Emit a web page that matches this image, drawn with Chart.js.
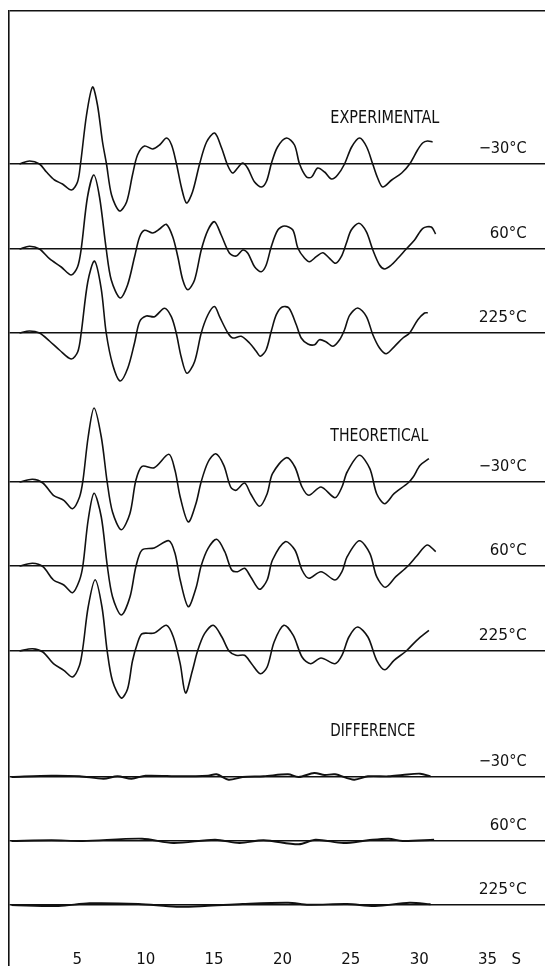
<!DOCTYPE html>
<html>
<head>
<meta charset="utf-8">
<script src="https://cdn.jsdelivr.net/npm/chart.js@4.4.1/dist/chart.umd.min.js"></script>
<style>
  html, body { margin: 0; padding: 0; background: #fff; }
  #wrap { width: 545px; height: 966px; position: relative; }
</style>
</head>
<body>
<div id="wrap"><canvas id="c"></canvas></div>
<script>
// time axis (s) and labels
const xTicks = [5, 10, 15, 20, 25, 30, 35];
const unitLabel = 'S';
const groupNames = ['EXPERIMENTAL', 'THEORETICAL', 'DIFFERENCE'];
const temps = ['\u221230\u00b0C', '60\u00b0C', '225\u00b0C'];

// vertical offset of each trace baseline (exp -30, 60, 225, theo -30, 60, 225, diff -30, 60, 225)
const traceOffsets = [802, 717, 633, 484, 400, 315, 189, 125, 61];

// traces: [time s, amplitude]
const expM30 = [[0.77,0],[1.5,3],[2.23,0],[2.74,-8],[3.33,-16],[3.91,-20],[4.57,-26],[5.01,-18],[5.23,0],[5.67,49],[6.11,77],[6.47,59],[6.84,22],[7.13,0],[7.5,-31],[8.08,-47],[8.6,-38],[9.03,-11],[9.4,9],[9.91,18],[10.5,15],[11.01,19],[11.52,26],[11.89,19],[12.25,0],[12.62,-24],[12.98,-39],[13.42,-28],[13.94,0],[14.45,22],[15.04,31],[15.55,16],[15.98,-1],[16.35,-9],[16.72,-4],[17.08,1],[17.45,-4],[17.96,-18],[18.47,-23],[18.84,-17],[19.2,1],[19.64,17],[20.3,26],[20.88,19],[21.25,0],[21.76,-13],[22.13,-13],[22.57,-4],[23.08,-8],[23.59,-15],[24.03,-11],[24.54,0],[25.06,17],[25.64,26],[26.16,17],[26.6,0],[26.96,-14],[27.33,-23],[27.99,-16],[28.72,-9],[29.3,0],[29.88,14],[30.25,21],[30.61,23],[30.98,22]];
const exp60 = [[0.77,0],[1.5,2.7],[2.23,0],[2.96,-9.7],[3.82,-18],[4.55,-26],[5.01,-18],[5.28,0],[5.74,52],[6.2,74],[6.62,52],[7.11,0],[7.48,-31],[8.13,-49],[8.67,-36],[9.18,-8],[9.55,12],[9.91,18.7],[10.52,16],[11.01,20],[11.5,24.7],[11.98,12],[12.35,-8],[12.71,-31],[13.08,-40.7],[13.57,-31],[14.06,-1],[14.54,18.7],[15.03,27.3],[15.52,14],[16.13,-4.3],[16.62,-7],[17.1,-1],[17.47,-4.3],[17.96,-17.7],[18.45,-22.7],[18.81,-16],[19.18,2.3],[19.66,19],[20.15,23],[20.76,19],[21.13,0.7],[21.62,-9.3],[21.98,-12.7],[22.47,-7.7],[22.95,-3.7],[23.44,-9.3],[23.88,-14.3],[24.3,-7.7],[24.67,5.7],[25.03,19],[25.59,25.7],[26.13,17.3],[26.61,-1],[27.1,-16],[27.47,-20],[27.96,-16],[28.44,-9.3],[29.05,0],[29.66,9],[30.27,20.7],[30.88,22],[31.2,15]];
const exp225 = [[0.77,0],[1.5,2],[2.23,0],[2.96,-8],[3.69,-17],[4.55,-26],[5.03,-18.7],[5.28,0],[5.76,51],[6.25,72],[6.74,44.7],[7.11,0],[7.59,-32],[8.13,-48],[8.69,-35],[9.18,-10],[9.55,11.3],[10.04,17],[10.64,16.3],[11.37,24.7],[11.87,16.3],[12.23,0],[12.6,-24.3],[13.01,-40.3],[13.57,-28.7],[14.06,0],[14.54,18],[15.03,26.5],[15.4,16.3],[16.01,0],[16.37,-5],[16.98,-3.3],[17.59,-10],[18.08,-18.3],[18.38,-23.3],[18.81,-16.7],[19.18,1.7],[19.55,18.3],[19.98,26],[20.47,25],[21.01,8.3],[21.37,-5],[21.86,-11],[22.35,-11.7],[22.71,-6.7],[23.2,-9],[23.69,-13.3],[24.18,-6.7],[24.54,3.3],[24.91,17.7],[25.51,25],[26.13,16.7],[26.61,-1.7],[27.1,-15],[27.59,-20.7],[28.2,-13.3],[28.81,-5],[29.3,0],[29.9,13.3],[30.39,20],[30.63,20.3]];
const theoM30 = [[0.77,0],[1.72,2.7],[2.48,-1],[3.25,-13.3],[4.01,-18.3],[4.65,-26.7],[5.16,-15],[5.41,1.7],[5.79,45],[6.22,74],[6.75,45],[7.18,0],[7.57,-30],[8.21,-47.7],[8.84,-31.7],[9.28,1.7],[9.73,15.7],[10.62,14.3],[11.69,27.7],[12.14,11.7],[12.52,-15],[13.11,-40],[13.67,-21.7],[14.05,0],[14.56,20],[15.12,28.3],[15.71,16.7],[16.21,-5],[16.6,-8.3],[17.23,-1],[17.67,-11.7],[18.32,-24.3],[18.88,-11.7],[19.27,8.3],[20.28,24.3],[20.91,15],[21.43,-5],[21.93,-13.3],[22.82,-5],[23.84,-15.7],[24.35,-5],[24.73,10],[25.62,26.7],[26.39,13.3],[26.89,-11.7],[27.48,-21.7],[28.16,-11.7],[29.18,-1],[29.56,5],[30.07,16.7],[30.71,23.3]];
const theo60 = [[0.77,0],[1.72,2.7],[2.48,-0.7],[3.25,-14],[4.01,-19],[4.65,-26.7],[5.16,-14],[5.41,1],[5.79,46],[6.22,72.7],[6.75,49],[7.18,1],[7.57,-30.7],[8.21,-49],[8.84,-31.3],[9.28,-0.7],[9.73,16],[10.62,18],[11.69,25.3],[12.14,12.7],[12.52,-14],[13.11,-40.7],[13.67,-22.3],[14.05,0],[14.56,17.7],[15.19,26.7],[15.78,14.3],[16.29,-4],[16.72,-5.7],[17.23,-2.3],[17.67,-10.7],[18.32,-23.3],[18.88,-14],[19.27,6],[20.2,24.3],[20.91,16],[21.43,-4],[21.93,-12.3],[22.82,-5.7],[23.84,-14],[24.35,-5.7],[24.73,9.3],[25.62,25.3],[26.39,12.7],[26.89,-10.7],[27.53,-21.3],[28.29,-10.7],[29.18,0],[29.82,10],[30.58,21],[31.21,14.3]];
const theo225 = [[0.77,0],[1.72,2.3],[2.48,-1],[3.25,-12.7],[4.01,-19.3],[4.65,-26],[5.16,-14.3],[5.41,4],[5.79,44],[6.3,71.3],[6.8,44],[7.18,0],[7.57,-30],[8.21,-47],[8.67,-38],[9.03,-10],[9.4,8],[9.73,17.3],[10.62,18],[11.51,25.7],[12.02,14],[12.52,-12.7],[12.91,-42],[13.42,-19.3],[13.79,0],[14.3,17.3],[14.94,25.7],[15.57,14],[16.09,0],[16.6,-4.3],[17.23,-4.3],[17.74,-12.7],[18.38,-22.7],[18.88,-16],[19.39,9],[20.1,25.7],[20.79,15.7],[21.43,-6],[22.06,-12.7],[22.82,-7],[23.84,-12.7],[24.35,-4.3],[24.86,14],[25.49,24],[26.25,14],[26.89,-9.3],[27.48,-18.7],[28.16,-9.3],[29.05,0],[29.82,10.7],[30.71,20.7]];
const diffM30 = [[0.18,0],[3.11,1.3],[5.16,0.7],[6.91,-1.7],[7.94,0.7],[8.96,-1.7],[9.99,1.3],[12.55,0.7],[14.56,1.3],[15.18,2.7],[16.06,-2.7],[17.08,0],[18.62,0.7],[20.41,2.7],[21.18,0],[22.32,4],[23.08,2],[23.84,2.7],[25.24,-2.7],[26.25,0.7],[27.76,0.7],[28.78,2],[30.07,3.3],[30.83,0.7]];
const diff60 = [[0.18,0],[3.11,0.7],[5.38,0],[9.73,2.3],[12.02,-2],[15.07,1.3],[16.85,-2],[18.62,0.7],[21.18,-3.3],[22.42,1.3],[24.47,-2],[26.25,0.7],[27.76,2.3],[28.78,0],[31.09,1.3]];
const diff225 = [[0.18,0],[3.62,-1],[5.89,1.7],[9.47,1],[12.25,-1.7],[14.3,-1],[17.08,1],[20.41,2.3],[21.91,0.3],[24.73,1],[26.77,-1],[29.3,2.3],[30.83,0.7]];

const traces = [expM30, exp60, exp225, theoM30, theo60, theo225, diffM30, diff60, diff225];

const datasets = traces.map((tr, i) => ({
    data: tr.map(p => ({ x: p[0], y: p[1] + traceOffsets[i] })),
    borderColor: '#111',
    borderWidth: i >= 6 ? 1.9 : 1.6,
    pointRadius: 0,
    tension: 0.3,
    fill: false
}));

function drawFitted(ctx, text, px, py, size, width, align) {
    ctx.font = size + 'px "DejaVu Sans Condensed", "DejaVu Sans", sans-serif';
    const w = ctx.measureText(text).width;
    const sx = width / w;
    ctx.save();
    ctx.translate(align === 'right' ? px - width : px, py);
    ctx.scale(sx, 1);
    ctx.fillText(text, 0, 0);
    ctx.restore();
}

const labelPlugin = {
    id: 'traceLabels',
    afterDatasetsDraw(chart) {
        const { ctx, scales: { x, y } } = chart;
        ctx.save();
        ctx.fillStyle = '#111';
        ctx.textBaseline = 'middle';
        ctx.textAlign = 'left';
        const headW = [109, 98, 85];
        const tempW = [48, 37, 48];
        groupNames.forEach((g, gi) => {
            drawFitted(ctx, g, x.getPixelForValue(23.5), y.getPixelForValue(traceOffsets[gi * 3] + 45), 17, headW[gi], 'left');
            temps.forEach((t, ti) => {
                drawFitted(ctx, t, x.getPixelForValue(37.86), y.getPixelForValue(traceOffsets[gi * 3 + ti] + 15.5), 16, tempW[ti], 'right');
            });
        });
        ctx.restore();
    }
};

new Chart(document.getElementById('c'), {
    type: 'line',
    data: { datasets },
    options: {
        animation: false,
        responsive: true,
        maintainAspectRatio: false,
        layout: { padding: { left: 9, top: 11, right: 0, bottom: 0 } },
        plugins: { legend: { display: false }, tooltip: { enabled: false } },
        scales: {
            x: {
                type: 'linear',
                axis: 'x',
                min: 0,
                max: 39.2,
                position: { y: 15 },
                grid: { display: false, drawTicks: false },
                border: { display: false },
                afterBuildTicks: s => {
                    s.ticks = xTicks.map(v => ({ value: v })).concat([{ value: 37.1 }]);
                },
                ticks: {
                    padding: 0,
                    maxRotation: 0,
                    autoSkip: false,
                    color: '#111',
                    font: { family: 'DejaVu Sans', size: 15 },
                    callback: v => (v === 37.1 ? unitLabel : String(v))
                }
            },
            y: {
                min: 0,
                max: 955,
                grid: { color: '#111', lineWidth: 1.4, drawTicks: false },
                border: { display: true, color: '#111', width: 1.6 },
                afterBuildTicks: s => {
                    s.ticks = traceOffsets.concat([955]).map(v => ({ value: v }));
                },
                ticks: { display: false }
            }
        }
    },
    plugins: [labelPlugin]
});
</script>
</body>
</html>
